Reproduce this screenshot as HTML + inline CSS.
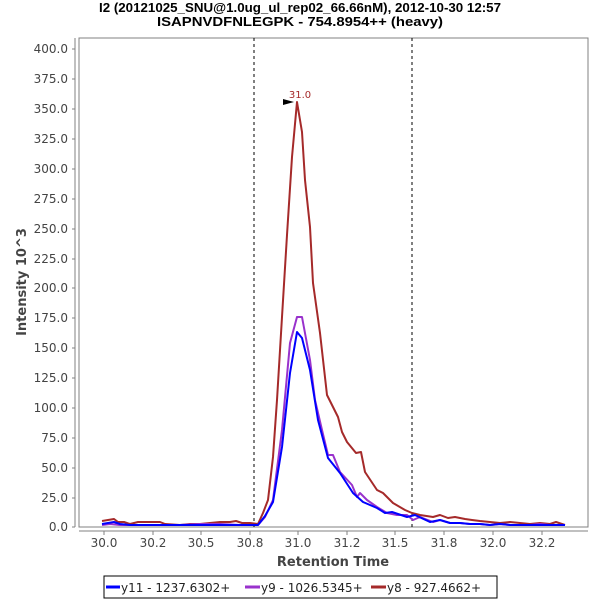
<!DOCTYPE html>
<html><head><meta charset="utf-8"><style>
html,body{margin:0;padding:0;background:#fff;}
svg{display:block;font-family:"DejaVu Sans","Liberation Sans",sans-serif;}
</style></head><body>
<svg width="600" height="600" viewBox="0 0 600 600" xmlns="http://www.w3.org/2000/svg">
<g font-family="Liberation Sans, sans-serif" font-size="13" font-weight="bold" fill="#000" text-anchor="middle">
<text x="300" y="12" textLength="402" lengthAdjust="spacingAndGlyphs">I2 (20121025_SNU@1.0ug_ul_rep02_66.66nM), 2012-10-30 12:57</text>
<text x="300" y="26" textLength="286" lengthAdjust="spacingAndGlyphs">ISAPNVDFNLEGPK - 754.8954++ (heavy)</text>
</g>
<rect x="79" y="38" width="509" height="489" fill="#fff" stroke="#808080" stroke-width="1"/>
<line x1="75" y1="38" x2="75" y2="527" stroke="#808080"/>
<line x1="79" y1="531" x2="588" y2="531" stroke="#808080"/>
<g font-size="12" fill="#444" text-anchor="end">
<text x="68" y="53">400.0</text><text x="68" y="83">375.0</text><text x="68" y="113">350.0</text><text x="68" y="143">325.0</text>
<text x="68" y="173">300.0</text><text x="68" y="203">275.0</text><text x="68" y="233">250.0</text><text x="68" y="263">225.0</text>
<text x="68" y="292">200.0</text><text x="68" y="322">175.0</text><text x="68" y="352">150.0</text><text x="68" y="382">125.0</text>
<text x="68" y="412">100.0</text><text x="68" y="442">75.0</text><text x="68" y="472">50.0</text><text x="68" y="502">25.0</text><text x="68" y="531">0.0</text>
</g>
<g stroke="#808080">
<line x1="72" y1="49" x2="75" y2="49"/><line x1="72" y1="79" x2="75" y2="79"/><line x1="72" y1="109" x2="75" y2="109"/><line x1="72" y1="139" x2="75" y2="139"/>
<line x1="72" y1="169" x2="75" y2="169"/><line x1="72" y1="199" x2="75" y2="199"/><line x1="72" y1="229" x2="75" y2="229"/><line x1="72" y1="259" x2="75" y2="259"/>
<line x1="72" y1="288" x2="75" y2="288"/><line x1="72" y1="318" x2="75" y2="318"/><line x1="72" y1="348" x2="75" y2="348"/><line x1="72" y1="378" x2="75" y2="378"/>
<line x1="72" y1="408" x2="75" y2="408"/><line x1="72" y1="438" x2="75" y2="438"/><line x1="72" y1="468" x2="75" y2="468"/><line x1="72" y1="498" x2="75" y2="498"/><line x1="72" y1="527" x2="75" y2="527"/>
<line x1="104" y1="531" x2="104" y2="535"/><line x1="153" y1="531" x2="153" y2="535"/><line x1="201" y1="531" x2="201" y2="535"/><line x1="250" y1="531" x2="250" y2="535"/><line x1="298" y1="531" x2="298" y2="535"/>
<line x1="347" y1="531" x2="347" y2="535"/><line x1="395" y1="531" x2="395" y2="535"/><line x1="444" y1="531" x2="444" y2="535"/><line x1="493" y1="531" x2="493" y2="535"/><line x1="542" y1="531" x2="542" y2="535"/>
</g>
<g font-size="12" fill="#444" text-anchor="middle">
<text x="104" y="547">30.0</text><text x="153" y="547">30.2</text><text x="201" y="547">30.5</text><text x="250" y="547">30.8</text><text x="298" y="547">31.0</text>
<text x="347" y="547">31.2</text><text x="395" y="547">31.5</text><text x="444" y="547">31.8</text><text x="493" y="547">32.0</text><text x="542" y="547">32.2</text>
</g>
<text x="333" y="566" text-anchor="middle" font-size="13" font-weight="bold" fill="#444">Retention Time</text>
<text transform="translate(26,282) rotate(-90)" text-anchor="middle" font-size="13" font-weight="bold" fill="#444">Intensity 10^3</text>
<line x1="254" y1="38" x2="254" y2="527" stroke="#000" stroke-dasharray="3,3"/>
<line x1="412" y1="38" x2="412" y2="527" stroke="#000" stroke-dasharray="3,3"/>
<g fill="none" stroke-width="2" stroke-linejoin="round">
<polyline stroke="#a52a2a" points="102,521 108,520 114,519 118,522 124,522 130,524 138,522 150,522 160,522 165,524 180,525 190,524 200,524 210,523 220,522 230,522 236,521 242,523 250,523 258,524 263,513 268,500 273,457 277,400 282,317 287,235 292,157 297,102 302,132 305,180 310,227 313,283 320,333 327,395 338,417 342,432 347,442 356,453 361,452 365,472 377,490 383,493 393,503 405,510 412,513 420,515 433,517 440,515 448,518 455,517 465,519 472,520 480,521 490,522 500,523 510,522 520,523 530,524 540,523 550,524 556,522 565,525"/>
<polyline stroke="#9932cc" points="102,525 110,524 120,525 140,525 160,525 180,525 200,524 220,524 240,525 258,525 265,517 273,500 282,430 290,343 297,317 302,317 310,360 315,400 322,430 328,455 333,455 340,472 352,485 357,497 360,493 367,500 377,507 387,513 397,515 407,515 413,520 420,517 433,522 440,520 450,523 460,523 470,524 480,524 490,525 500,524 510,525 520,525 530,525 540,524 550,525 565,525"/>
<polyline stroke="#0000ff" points="102,524 108,523 114,522 120,524 130,525 140,525 160,525 180,525 200,525 220,525 240,525 258,525 265,516 273,502 282,447 290,373 297,332 302,338 310,370 318,420 328,458 340,473 353,493 363,502 377,508 385,513 392,512 407,517 415,515 430,522 440,520 450,523 460,523 470,524 480,524 490,525 500,524 510,525 520,525 530,525 540,525 550,525 565,525"/>
</g>
<polygon points="283,99 283,105 294,102" fill="#000"/>
<text x="300" y="98" text-anchor="middle" font-size="10" fill="#a52a2a">31.0</text>
<rect x="104" y="576" width="393" height="22" fill="#fff" stroke="#000"/>
<g stroke-width="3">
<line x1="106" y1="587" x2="120" y2="587" stroke="#0000ff"/>
<line x1="245" y1="587" x2="260" y2="587" stroke="#9932cc"/>
<line x1="371" y1="587" x2="386" y2="587" stroke="#a52a2a"/>
</g>
<g font-size="12" fill="#222">
<text x="121" y="592">y11 - 1237.6302+</text>
<text x="261" y="592">y9 - 1026.5345+</text>
<text x="387" y="592">y8 - 927.4662+</text>
</g>
</svg>
</body></html>
